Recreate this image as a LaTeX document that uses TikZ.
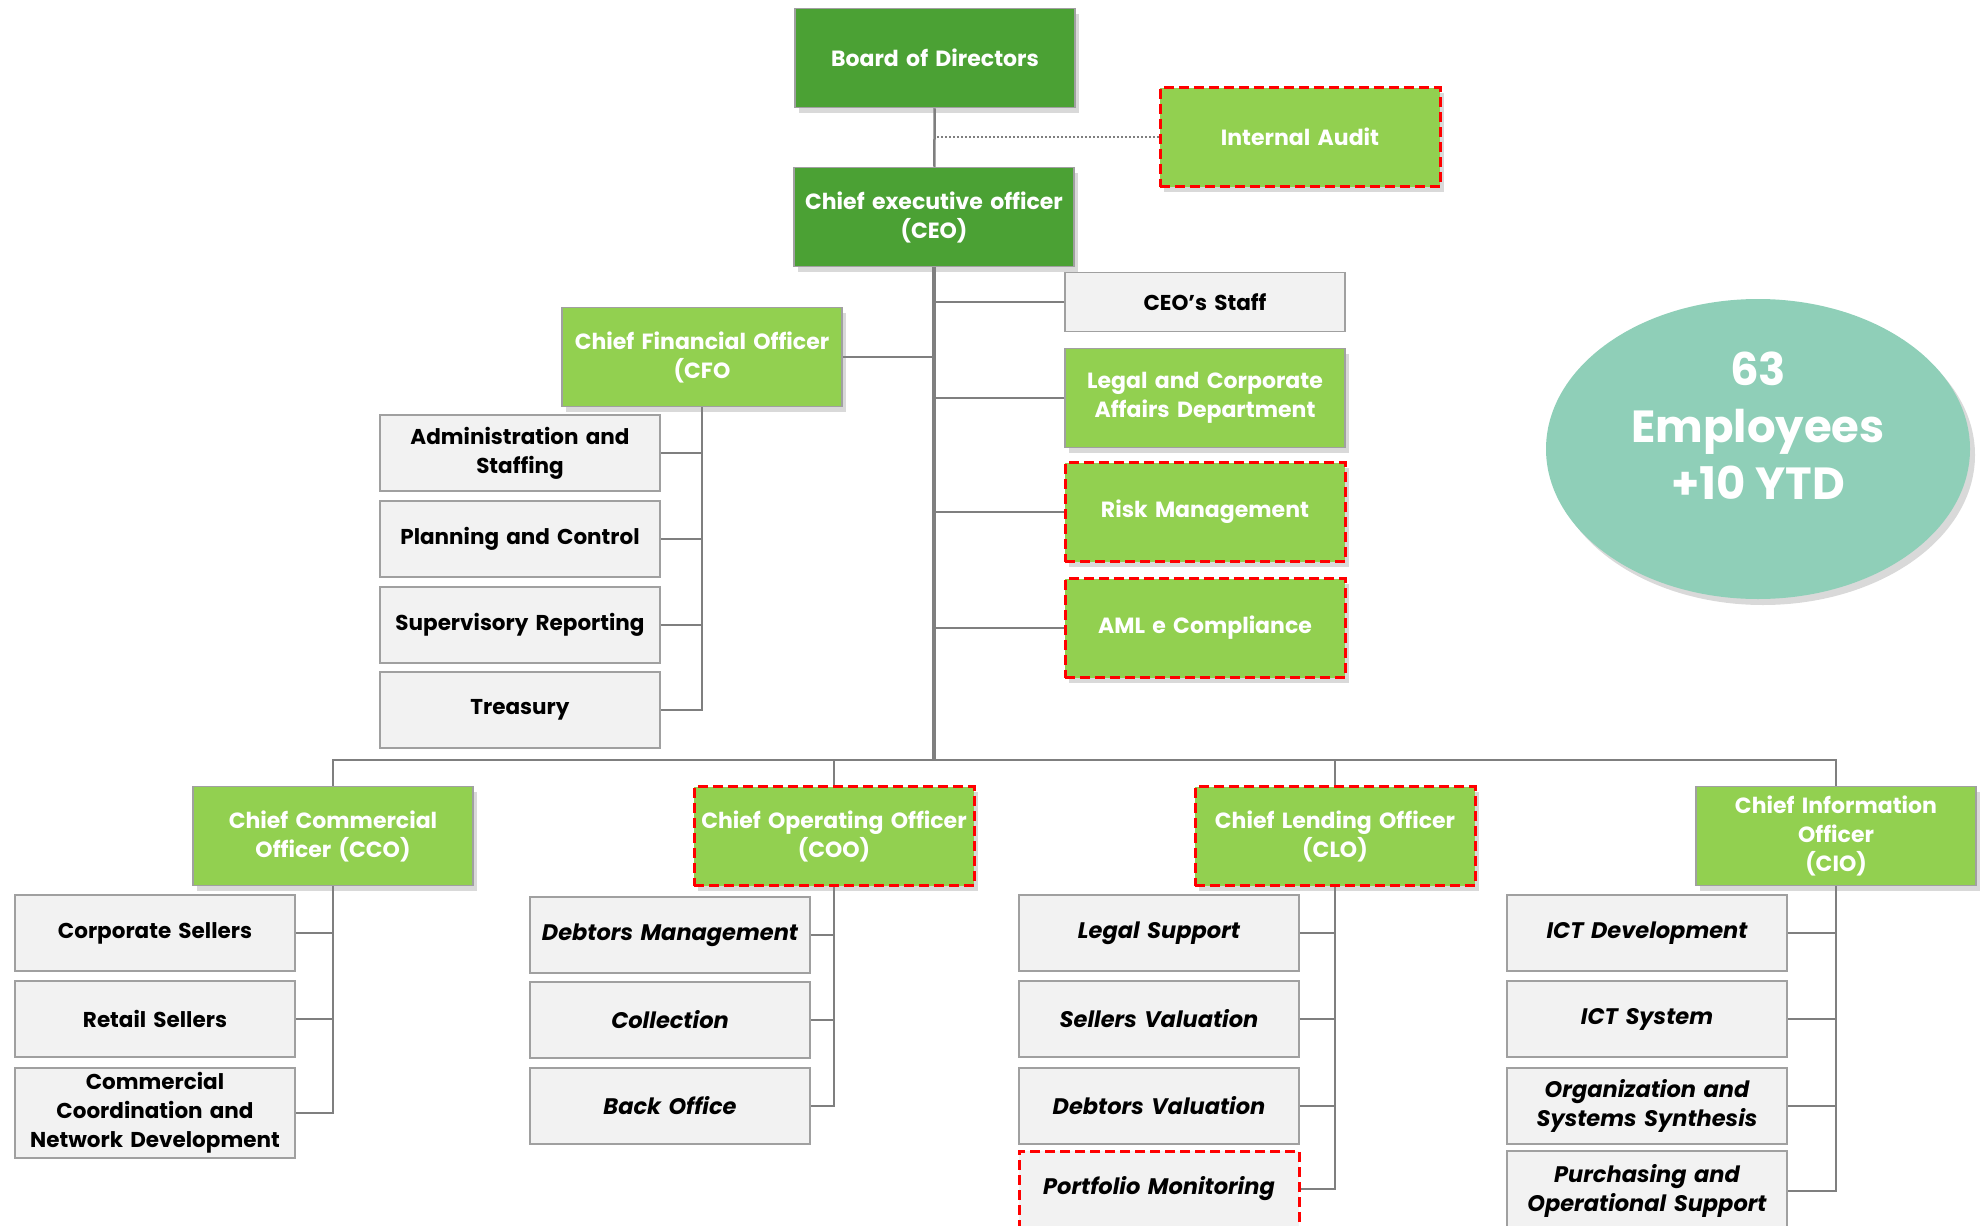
\documentclass[tikz,border=0pt]{standalone}
\usepackage{fontspec}
\setmainfont{Poppins}
\usetikzlibrary{positioning}
\usetikzlibrary{shapes.geometric}
\usetikzlibrary{shadows}

\definecolor{darkgreen}{HTML}{4BA134}
\definecolor{litegreen}{HTML}{92D050}
\definecolor{boxgray}{HTML}{F2F2F2}
\definecolor{edgegray}{HTML}{A0A0A0}
\definecolor{linegray}{HTML}{7F7F7F}
\definecolor{mint}{HTML}{8FCFB8}

\begin{document}
\begin{tikzpicture}[
        x = 1pt, y = -1pt,
        head/.style = {
            draw = edgegray,
            line width = 1.5pt,
            fill = #1,
            text = white,
            font = \fontsize{22}{29}\selectfont\bfseries,
            align = center,
            text width = 276pt,
            minimum width = 280pt,
            minimum height = 99pt,
            inner sep = 0pt,
            drop shadow = {shadow xshift=4pt, shadow yshift=-5pt, opacity=0.3}
        },
        head/.default = litegreen,
        unit/.style = {
            draw = edgegray,
            line width = 1.5pt,
            fill = boxgray,
            text = black,
            font = \fontsize{21.5}{29}\selectfont\bfseries,
            align = center,
            text width = 276pt,
            minimum width = 280pt,
            minimum height = 76pt,
            inner sep = 0pt
        },
        slanted/.style = {
            unit,
            font = \fontsize{22.5}{29}\selectfont\bfseries\itshape
        },
        flagged/.style = {
            draw = red,
            line width = 3pt,
            dash pattern = on 10pt off 5pt
        },
        link/.style = {draw = linegray, line width = 2.5pt}
        ]
        \useasboundingbox (0,0) rectangle (1984,1226);
%
        \node[head=darkgreen] (bod) at (935,58) {Board of Directors};
        \node[head, flagged] (audit) at (1300,137) {Internal Audit};
        \node[head=darkgreen] (ceo) at (934,217) {Chief executive officer\\(CEO)};
%
        \node[unit, minimum height=59pt] (staff) at (1205,302) {CEO’s Staff};
        \node[head] (legal) at (1205,398) {Legal and Corporate\\Affairs Department};
        \node[head, flagged] (risk) at (1205,512) {Risk Management};
        \node[head, flagged] (aml) at (1205,628) {AML e Compliance};
%
        \node[head] (cfo) at (702,357) {Chief Financial Officer\\(CFO};
        \node[unit] (adm) at (520,453) {Administration and\\Staffing};
        \node[unit] (plan) at (520,539) {Planning and Control};
        \node[unit] (sup) at (520,625) {Supervisory Reporting};
        \node[unit] (treas) at (520,710) {Treasury};
%
        \node[ellipse, fill=mint, minimum width=424pt, minimum height=300pt,
              text=white, align=center, font=\fontsize{45}{57}\selectfont\bfseries,
              text depth=46pt,
              drop shadow={shadow xshift=5pt, shadow yshift=-6pt, opacity=0.3}]
              (staffcount) at (1758,449) {63\\Employees\\+10 YTD};
%
%
        \coordinate (bar) at (934,760);
        \node[head] (cco) at (333,836) {Chief Commercial\\Officer (CCO)};
        \node[head, flagged] (coo) at (834,836) {Chief Operating Officer\\(COO)};
        \node[head, flagged] (clo) at (1335,836) {Chief Lending Officer\\(CLO)};
        \node[head] (cio) at (1836,836) {Chief Information\\Officer\\(CIO)};
%
        \node[unit] (corp) at (155,933) {Corporate Sellers};
        \node[unit] (retail) at (155,1019) {Retail Sellers};
        \node[unit, minimum height=90pt] (coord) at (155,1113) {Commercial\\Coordination and\\Network Development};
%
        \node[slanted] (debtm) at (670,935) {Debtors Management};
        \node[slanted] (coll) at (670,1020) {Collection};
        \node[slanted] (back) at (670,1106) {Back Office};
%
        \node[slanted] (lsup) at (1159,933) {Legal Support};
        \node[slanted] (sval) at (1159,1019) {Sellers Valuation};
        \node[slanted] (dval) at (1159,1106) {Debtors Valuation};
        \node[slanted, flagged] (port) at (1159,1189) {Portfolio Monitoring};
%
        \node[slanted] (ictd) at (1647,933) {ICT Development};
        \node[slanted] (icts) at (1647,1019) {ICT System};
        \node[slanted] (org) at (1647,1106) {Organization and\\Systems Synthesis};
        \node[slanted, minimum height=80pt] (purch) at (1647,1191) {Purchasing and\\Operational Support};
%
% top of the tree
        \draw[link] (bod) -- (ceo);
        \draw[linegray, line width=2pt, dotted] (audit.west) -- (audit.west -| bod.south);
        \draw[link, line width=3.5pt] (ceo) -- (bar);
        \draw[link] (staff.west) -- (staff.west -| ceo.south);
        \draw[link] (legal.west) -- (legal.west -| ceo.south);
        \draw[link] (risk.west) -- (risk.west -| ceo.south);
        \draw[link] (aml.west) -- (aml.west -| ceo.south);
        \draw[link] (cfo.east) -- (cfo.east -| ceo.south);
%
        \draw[link] (cfo.south) |- (treas.east);
        \draw[link] (adm.east) -- (adm.east -| cfo.south);
        \draw[link] (plan.east) -- (plan.east -| cfo.south);
        \draw[link] (sup.east) -- (sup.east -| cfo.south);
%
% the four chiefs
        \draw[link] (cco.north) |- (bar) -| (cio.north);
        \draw[link] (coo.north) -- (coo.north |- bar);
        \draw[link] (clo.north) -- (clo.north |- bar);
%
        \draw[link] (cco.south) |- (coord.east);
        \draw[link] (corp.east) -- (corp.east -| cco.south);
        \draw[link] (retail.east) -- (retail.east -| cco.south);
%
        \draw[link] (coo.south) |- (back.east);
        \draw[link] (debtm.east) -- (debtm.east -| coo.south);
        \draw[link] (coll.east) -- (coll.east -| coo.south);
%
        \draw[link] (clo.south) |- (port.east);
        \draw[link] (lsup.east) -- (lsup.east -| clo.south);
        \draw[link] (sval.east) -- (sval.east -| clo.south);
        \draw[link] (dval.east) -- (dval.east -| clo.south);
%
        \draw[link] (cio.south) |- (purch.east);
        \draw[link] (ictd.east) -- (ictd.east -| cio.south);
        \draw[link] (icts.east) -- (icts.east -| cio.south);
        \draw[link] (org.east) -- (org.east -| cio.south);
%
    \end{tikzpicture}
\end{document}
